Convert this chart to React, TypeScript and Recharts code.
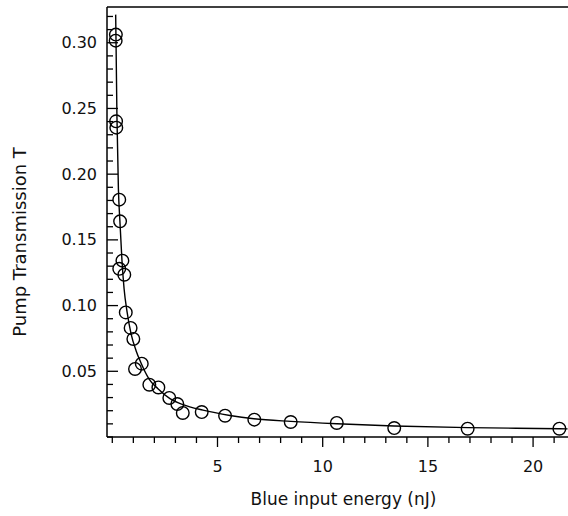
import React from "react";
import {
  ComposedChart,
  Scatter,
  Line,
  XAxis,
  YAxis,
  ReferenceLine,
} from "recharts";

// measured points
const energyNJ = [
  0.17, 0.16, 0.18, 0.19, 0.33, 0.37, 0.48, 0.33, 0.57, 0.64, 0.87, 1.0, 1.4,
  1.08, 1.76, 2.19, 2.71, 3.09, 3.35, 4.25, 5.36, 6.75, 8.48, 10.67, 13.4,
  16.89, 21.25,
];
const transmission = [
  0.3062, 0.3016, 0.2402, 0.2354, 0.1806, 0.1641, 0.1342, 0.128, 0.1235,
  0.0948, 0.083, 0.0746, 0.0558, 0.0518, 0.0398, 0.0377, 0.0297, 0.0251,
  0.0183, 0.019, 0.0162, 0.0132, 0.0114, 0.0107, 0.0068, 0.0063, 0.0063,
];

// fitted curve
const fitEnergy = [
  0.16, 0.176, 0.22, 0.29, 0.36, 0.46, 0.56, 0.7, 0.89, 1.13, 1.36, 1.74, 2.17,
  2.74, 3.36, 4.31, 5.59, 6.73, 8.49, 10.67, 13.39, 16.9, 21.27, 21.64,
];
const fitT = [
  0.3214, 0.3024, 0.2442, 0.1888, 0.1645, 0.1341, 0.1128, 0.0954, 0.0787,
  0.0657, 0.0565, 0.0443, 0.0367, 0.0292, 0.0246, 0.0204, 0.0164, 0.0139,
  0.0119, 0.0101, 0.0084, 0.0071, 0.0063, 0.0062,
];

const xTicks = [
  0, 1, 2, 3, 4, 5, 6, 7, 8, 9, 10, 11, 12, 13, 14, 15, 16, 17, 18, 19, 20, 21,
  22,
];
const xLabels = [5, 10, 15, 20];
const yTicks = [
  0, 0.01, 0.02, 0.03, 0.04, 0.05, 0.06, 0.07, 0.08, 0.09, 0.1, 0.11, 0.12,
  0.13, 0.14, 0.15, 0.16, 0.17, 0.18, 0.19, 0.2, 0.21, 0.22, 0.23, 0.24, 0.25,
  0.26, 0.27, 0.28, 0.29, 0.3, 0.31, 0.32,
];
const yLabels = ["0.05", "0.10", "0.15", "0.20", "0.25", "0.30"];

const X_DOMAIN: [number, number] = [-0.252, 22.23];
const Y_DOMAIN: [number, number] = [0, 0.3272];

const points = energyNJ.map((x, i) => ({ x, y: transmission[i] }));
const fit = fitEnergy.map((x, i) => ({ x, y: fitT[i] }));

const FONT = "'DejaVu Sans', sans-serif";

function XTick(props: any) {
  const { x, y, payload } = props;
  const major = xLabels.includes(payload.value);
  return (
    <g>
      <line x1={x} x2={x} y1={y} y2={y + (major ? 10 : 6)} stroke="#000" strokeWidth={1.3} />
      {major && (
        <text x={x} y={y + 35} textAnchor="middle" fontSize={16} fontFamily={FONT} fill="#111">
          {payload.value}
        </text>
      )}
    </g>
  );
}

function YTick(props: any) {
  const { x, y, payload } = props;
  const label = payload.value.toFixed(2);
  const major = yLabels.includes(label);
  return (
    <g>
      <line x1={x} x2={x + (major ? 11 : 6)} y1={y} y2={y} stroke="#000" strokeWidth={1.3} />
      {major && (
        <text x={x - 10} y={y + 5.5} textAnchor="end" fontSize={16} fontFamily={FONT} fill="#111">
          {label}
        </text>
      )}
    </g>
  );
}

function Ring(props: any) {
  const { cx, cy } = props;
  return <circle cx={cx} cy={cy} r={6.3} fill="none" stroke="#000" strokeWidth={1.4} />;
}

export default function App() {
  return (
    <div
      style={{
        position: "absolute",
        left: 0,
        top: 0,
        width: 568,
        height: 516,
        overflow: "hidden",
        background: "#fff",
      }}
    >
      <ComposedChart
        width={600}
        height={516}
        margin={{ top: 7, right: 20, bottom: 0, left: 0 }}
      >
        <XAxis
          type="number"
          dataKey="x"
          domain={X_DOMAIN}
          ticks={xTicks}
          interval={0}
          allowDataOverflow
          height={79}
          tickSize={0}
          tickMargin={0}
          tickLine={false}
          axisLine={{ stroke: "#000", strokeWidth: 1.5 }}
          tick={<XTick />}
          label={{
            value: "Blue input energy (nJ)",
            position: "insideBottom",
            offset: 11,
            fontSize: 17,
            fontFamily: FONT,
            fill: "#111",
          }}
        />
        <YAxis
          type="number"
          dataKey="y"
          domain={Y_DOMAIN}
          ticks={yTicks}
          interval={0}
          allowDataOverflow
          width={107}
          tickSize={0}
          tickMargin={0}
          tickLine={false}
          axisLine={{ stroke: "#000", strokeWidth: 1.5 }}
          tick={<YTick />}
          label={{
            value: "Pump Transmission T",
            angle: -90,
            position: "insideLeft",
            offset: 20,
            dy: 20,
            fontSize: 18,
            fontFamily: FONT,
            fill: "#111",
            style: { textAnchor: "middle" },
          }}
        />
        <ReferenceLine y={Y_DOMAIN[1]} stroke="#000" strokeWidth={1.5} />
        <Line
          data={fit}
          dataKey="y"
          type="monotone"
          stroke="#000"
          strokeWidth={1.4}
          dot={false}
          activeDot={false}
          isAnimationActive={false}
        />
        <Scatter
          data={points}
          dataKey="y"
          shape={<Ring />}
          isAnimationActive={false}
        />
      </ComposedChart>
    </div>
  );
}
